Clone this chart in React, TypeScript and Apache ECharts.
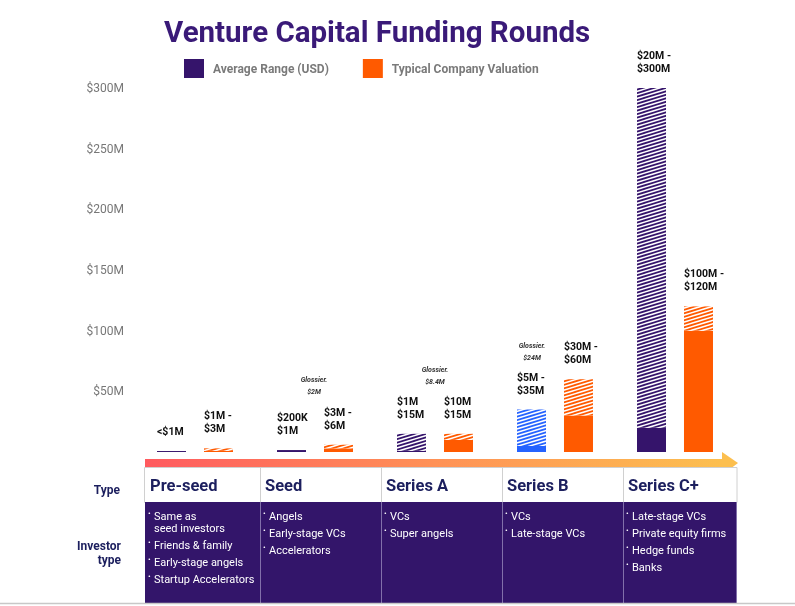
import React, { useEffect, useRef } from 'react';
import * as echarts from 'echarts';

// ---- data ----
const categories = ['Pre-seed', 'Seed', 'Series A', 'Series B', 'Series C+'];
// Average range (USD, $M): solid part = low end, hatched part = up to high end
const avgLow = [0.8, 1.6, 1, 5, 20];
const avgHigh = [0.8, 1.6, 15, 35, 300];
// Typical company valuation ($M)
const valLow = [1, 3, 10, 30, 100];
const valHigh = [3, 6, 15, 60, 120];
const avgLabels = ['<$1M', '$200K\n$1M', '$1M\n$15M', '$5M -\n$35M', '$20M -\n$300M'];
const valLabels = ['$1M -\n$3M', '$3M -\n$6M', '$10M\n$15M', '$30M -\n$60M', '$100M -\n$120M'];
const yMax = 300;
const yStep = 50;
const investors = [
  ['Same as\nseed investors', 'Friends & family', 'Early-stage angels', 'Startup Accelerators'],
  ['Angels', 'Early-stage VCs', 'Accelerators'],
  ['VCs', 'Super angels'],
  ['VCs', 'Late-stage VCs'],
  ['Late-stage VCs', 'Private equity firms', 'Hedge funds', 'Banks'],
];
const glossierNotes = ['$2M', '$8.4M', '$24M'];

const FONT = 'Roboto, "Noto Sans", sans-serif';
const PURPLE = '#35146b';
const ORANGE = '#ff5a00';
const BLUE = '#2563ff';
const NAVY = '#1c1f5e';

function makeHatch(color: string) {
  const W = 23;
  const H = 7;
  const c = document.createElement('canvas');
  c.width = W;
  c.height = H;
  const ctx = c.getContext('2d')!;
  ctx.fillStyle = '#fff';
  ctx.fillRect(0, 0, W, H);
  ctx.strokeStyle = color;
  ctx.lineWidth = 1.7;
  for (let y = -7; y <= 14; y += 3.5) {
    ctx.beginPath();
    ctx.moveTo(-1, y + H + H / W);
    ctx.lineTo(W + 1, y - H / W);
    ctx.stroke();
  }
  return { image: c, repeat: 'repeat' };
}

export default function App() {
  const ref = useRef<HTMLDivElement>(null);
  useEffect(() => {
    const chart = echarts.init(ref.current!, null, { renderer: 'svg' });

    const avgColor = (i: number) => (categories[i] === 'Series B' ? BLUE : PURPLE);

    const labelCfg = {
      show: true,
      position: [0, -13],
      align: 'left',
      verticalAlign: 'bottom',
      fontSize: 10.5,
      fontWeight: 'bold',
      lineHeight: 13,
      color: '#111',
      fontFamily: FONT,
    };

    // table / decoration geometry
    const colX = [145, 260, 381, 502, 623, 737];
    const g: any[] = [];
    g.push({
      type: 'rect',
      shape: { x: 145, y: 459, width: 578, height: 8 },
      style: {
        fill: new echarts.graphic.LinearGradient(0, 0, 1, 0, [
          { offset: 0, color: '#ff5a5f' },
          { offset: 0.5, color: '#ff9156' },
          { offset: 1, color: '#fcbf4f' },
        ]),
      },
    });
    g.push({
      type: 'polygon',
      shape: { points: [[722, 452], [738, 463], [722, 475]] },
      style: { fill: '#fcbf4f' },
    });
    g.push({
      type: 'rect',
      shape: { x: 144.5, y: 467.5, width: 592.5, height: 35 },
      style: { fill: '#fff', stroke: '#d0d0d0', lineWidth: 1 },
    });
    g.push({
      type: 'rect',
      shape: { x: 145, y: 502, width: 592, height: 101 },
      style: { fill: '#33156a' },
    });
    for (let i = 1; i < colX.length - 1; i++) {
      g.push({
        type: 'line',
        shape: { x1: colX[i] + 0.5, y1: 467, x2: colX[i] + 0.5, y2: 502 },
        style: { stroke: '#d0d0d0', lineWidth: 1 },
      });
      g.push({
        type: 'line',
        shape: { x1: colX[i] + 0.5, y1: 502, x2: colX[i] + 0.5, y2: 603 },
        style: { stroke: '#8270aa', lineWidth: 1 },
      });
    }
    g.push({
      type: 'line',
      shape: { x1: 736.5, y1: 502, x2: 736.5, y2: 603 },
      style: { stroke: '#8270aa', lineWidth: 1 },
    });
    g.push({
      type: 'line',
      shape: { x1: 0, y1: 603.5, x2: 795, y2: 603.5 },
      style: { stroke: '#c8c8c8', lineWidth: 1.5 },
    });
    categories.forEach((c, i) => {
      g.push({
        type: 'text',
        x: colX[i] + 5,
        y: 485,
        style: { text: c, fill: NAVY, fontSize: 16.5, fontWeight: 'bold', fontFamily: FONT, verticalAlign: 'middle' },
      });
      let y = 516;
      investors[i].forEach((item) => {
        const lines = item.split('\n').length;
        g.push({
          type: 'text',
          x: colX[i] + 3,
          y: y - 3,
          style: { text: '•', fill: '#fff', fontSize: 8, fontFamily: FONT, verticalAlign: 'middle' },
        });
        g.push({
          type: 'text',
          x: colX[i] + 9,
          y: y - 6,
          style: { text: item, fill: '#fff', fontSize: 11, lineHeight: 12, fontFamily: FONT, verticalAlign: 'top' },
        });
        y += 17 + (lines - 1) * 12;
      });
    });
    g.push({
      type: 'text',
      x: 120,
      y: 490,
      style: { text: 'Type', fill: NAVY, fontSize: 12, fontWeight: 'bold', fontFamily: FONT, align: 'right', verticalAlign: 'middle' },
    });
    g.push({
      type: 'text',
      x: 121,
      y: 539,
      style: { text: 'Investor\ntype', fill: NAVY, fontSize: 12, lineHeight: 14, fontWeight: 'bold', fontFamily: FONT, align: 'right', verticalAlign: 'top' },
    });
    const notePos = [
      [314, 380],
      [435, 370],
      [532, 346],
    ];
    glossierNotes.forEach((n, i) => {
      g.push({
        type: 'text',
        x: notePos[i][0],
        y: notePos[i][1],
        style: { text: 'Glossier.', fill: '#333', fontSize: 7, fontStyle: 'italic', fontWeight: 'bold', fontFamily: FONT, align: 'center', verticalAlign: 'middle' },
      });
      g.push({
        type: 'text',
        x: notePos[i][0],
        y: notePos[i][1] + 12,
        style: { text: n, fill: '#333', fontSize: 7, fontStyle: 'italic', fontWeight: 'bold', fontFamily: FONT, align: 'center', verticalAlign: 'middle' },
      });
    });

    chart.setOption({
      animation: false,
      title: {
        text: 'Venture Capital Funding Rounds',
        left: 164,
        top: 17,
        padding: 0,
        textStyle: { fontSize: 29.5, fontWeight: 'bold', color: '#3a1a78', fontFamily: FONT },
      },
      legend: {
        data: ['Average Range (USD)', 'Typical Company Valuation'],
        left: 184,
        top: 59,
        padding: 0,
        icon: 'rect',
        itemWidth: 20,
        itemHeight: 19,
        itemGap: 34,
        textStyle: { color: '#7a7a7a', fontSize: 12, fontWeight: 'bold', fontFamily: FONT, padding: [0, 0, 0, 4] },
      },
      grid: { left: 135, right: 60, top: 88, bottom: 154 },
      xAxis: {
        type: 'category',
        data: categories,
        axisLine: { show: false },
        axisTick: { show: false },
        axisLabel: { show: false },
      },
      yAxis: {
        type: 'value',
        min: 0,
        max: yMax,
        interval: yStep,
        splitLine: { show: false },
        axisLine: { show: false },
        axisTick: { show: false },
        axisLabel: {
          color: '#777',
          fontSize: 12,
          fontFamily: FONT,
          margin: 11,
          formatter: (v: number) => (v === 0 ? '' : `$${v}M`),
        },
      },
      graphic: g,
      series: [
        {
          name: 'Average Range (USD)',
          type: 'bar',
          stack: 'avg',
          barWidth: 29,
          barGap: '62%',
          itemStyle: { color: PURPLE },
          data: avgLow.map((v, i) => ({ value: v, itemStyle: { color: avgColor(i) } })),
        },
        {
          name: 'Average Range (USD) upper',
          type: 'bar',
          stack: 'avg',
          barWidth: 29,
          barGap: '62%',
          itemStyle: { color: '#fff' },
          label: { ...labelCfg, formatter: (p: any) => avgLabels[p.dataIndex] },
          data: avgHigh.map((v, i) => ({
            value: v - avgLow[i],
            itemStyle: { color: makeHatch(avgColor(i)) },
          })),
        },
        {
          name: 'Typical Company Valuation',
          type: 'bar',
          stack: 'val',
          barWidth: 29,
          barGap: '62%',
          itemStyle: { color: ORANGE },
          data: valLow,
        },
        {
          name: 'Typical Company Valuation upper',
          type: 'bar',
          stack: 'val',
          barWidth: 29,
          barGap: '62%',
          itemStyle: { color: makeHatch(ORANGE) },
          label: { ...labelCfg, formatter: (p: any) => valLabels[p.dataIndex] },
          data: valHigh.map((v, i) => v - valLow[i]),
        },
      ],
    });
    return () => chart.dispose();
  }, []);
  return <div ref={ref} style={{ position: 'fixed', left: 0, top: 0, width: 795, height: 606 }} />;
}
